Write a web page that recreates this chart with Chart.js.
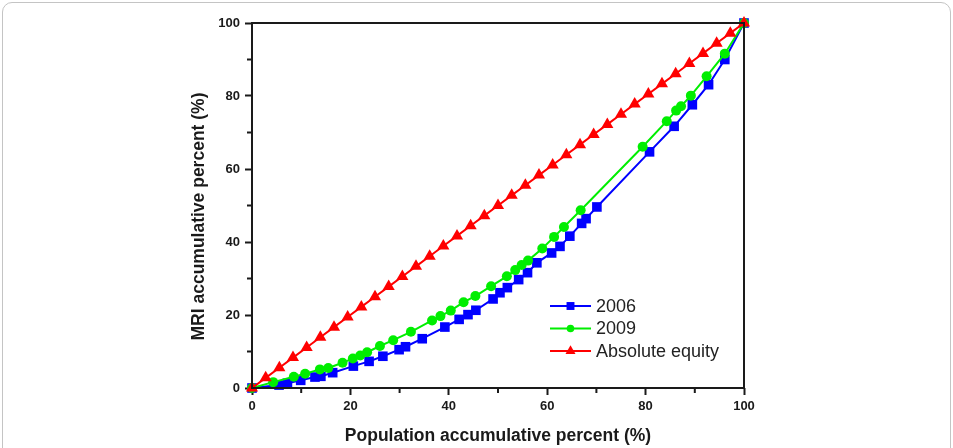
<!DOCTYPE html>
<html>
<head>
<meta charset="utf-8">
<script src="https://cdn.jsdelivr.net/npm/chart.js@4/dist/chart.umd.min.js"></script>
<style>
  body { margin: 0; background: #fff; }
  #frame {
    position: absolute; left: 2px; top: 2px; width: 947px; height: 470px;
    border: 1px solid #c4c4c4; border-radius: 10px;
  }
  #wrap { position: absolute; left: 0; top: 0; width: 953px; height: 448px; }
</style>
</head>
<body>
<div id="frame"></div>
<div id="wrap"><canvas id="lorenz" width="953" height="448"></canvas></div>
<script>
/*===================================================================
   Data
==================================================================*/
const seriesNames = ['2006', '2009', 'Absolute equity']

const pop2006 = [0, 5.5, 7.2, 9.9, 12.8, 14.0, 16.4, 20.6, 23.8, 26.6, 29.9, 31.2, 34.6, 39.2, 42.1, 43.9, 45.5, 49.0, 50.4, 51.9, 54.2, 56.0, 57.9, 60.9, 62.6, 64.6, 67.0, 67.9, 70.1, 80.8, 85.8, 89.5, 92.8, 96.1, 100]
const mri2006 = [0, 0.8, 1.3, 2.1, 3.0, 3.2, 4.2, 6.0, 7.3, 8.7, 10.5, 11.3, 13.5, 16.7, 18.8, 20.1, 21.3, 24.4, 26.1, 27.5, 29.7, 31.6, 34.3, 37.0, 38.8, 41.6, 45.1, 46.4, 49.6, 64.7, 71.7, 77.6, 83.1, 90.0, 100]

const pop2009 = [0, 4.3, 8.5, 10.8, 13.8, 15.5, 18.4, 20.5, 22.0, 23.4, 26.0, 28.7, 32.3, 36.6, 38.3, 40.4, 43.0, 45.4, 48.6, 51.8, 53.5, 54.8, 56.1, 59.0, 61.4, 63.4, 66.8, 79.4, 84.3, 86.2, 87.2, 89.2, 92.4, 96.1, 100]
const mri2009 = [0, 1.6, 3.1, 3.9, 5.1, 5.5, 6.9, 8.1, 8.9, 9.8, 11.5, 13.1, 15.4, 18.5, 19.7, 21.2, 23.5, 25.2, 27.9, 30.6, 32.3, 33.7, 34.9, 38.2, 41.4, 44.1, 48.7, 66.1, 73.1, 76.0, 77.2, 80.1, 85.4, 91.6, 100]

const popEquity = [0, 2.78, 5.56, 8.33, 11.11, 13.89, 16.67, 19.44, 22.22, 25, 27.78, 30.56, 33.33, 36.11, 38.89, 41.67, 44.44, 47.22, 50, 52.78, 55.56, 58.33, 61.11, 63.89, 66.67, 69.44, 72.22, 75, 77.78, 80.56, 83.33, 86.11, 88.89, 91.67, 94.44, 97.22, 100]
const mriEquity = [0, 2.78, 5.56, 8.33, 11.11, 13.89, 16.67, 19.44, 22.22, 25, 27.78, 30.56, 33.33, 36.11, 38.89, 41.67, 44.44, 47.22, 50, 52.78, 55.56, 58.33, 61.11, 63.89, 66.67, 69.44, 72.22, 75, 77.78, 80.56, 83.33, 86.11, 88.89, 91.67, 94.44, 97.22, 100]

const majorTicks = [0, 20, 40, 60, 80, 100]
const minorTicks = [10, 30, 50, 70, 90]

const xTitle = 'Population accumulative percent (%)'
const yTitle = 'MRI accumulative percent (%)'

/*===================================================================
   helpers
==================================================================*/
const toPoints = (xs, ys) => xs.map((x, i) => ({ x: x, y: ys[i] }))
const FONT = '"Liberation Sans", Arial, sans-serif'
const INK = '#1a1a1a'

// order: lower number ends up on top
const styles = [
  { color: '#0000ff', pointStyle: 'rect', radius: 6.8, order: 2 },
  { color: '#00ee00', pointStyle: 'circle', radius: 5, order: 1 },
  { color: '#ff0000', pointStyle: 'triangle', radius: 7, order: 0 },
]

/*===================================================================
   frame: full box + minor ticks + y title + legend inside the plot
==================================================================*/
const framePlugin = {
  id: 'framePlugin',
  afterDraw(chart) {
    const { ctx, chartArea: a, scales } = chart
    ctx.save()
    ctx.strokeStyle = INK
    ctx.lineWidth = 2
    ctx.strokeRect(a.left, a.top, a.right - a.left, a.bottom - a.top)

    // minor ticks, shorter than the labelled ones
    ctx.beginPath()
    minorTicks.forEach(v => {
      const px = scales.x.getPixelForValue(v)
      ctx.moveTo(px, a.bottom)
      ctx.lineTo(px, a.bottom + 5)
      const py = scales.y.getPixelForValue(v)
      ctx.moveTo(a.left, py)
      ctx.lineTo(a.left - 5, py)
    })
    ctx.stroke()

    // y title, sits a bit below the middle of the axis in the original
    ctx.save()
    ctx.translate(199, (a.top + a.bottom) / 2 + 11)
    ctx.rotate(-Math.PI / 2)
    ctx.fillStyle = INK
    ctx.font = 'bold 17.5px ' + FONT
    ctx.textAlign = 'center'
    ctx.textBaseline = 'middle'
    ctx.fillText(yTitle, 0, 0)
    ctx.restore()

    // legend
    const lx = 550, ly = 306, gap = 22.5
    seriesNames.forEach((name, i) => {
      const s = styles[i]
      const y = ly + i * gap
      ctx.strokeStyle = s.color
      ctx.lineWidth = 2
      ctx.beginPath()
      ctx.moveTo(lx, y)
      ctx.lineTo(lx + 41, y)
      ctx.stroke()
      ctx.fillStyle = s.color
      Chart.helpers.drawPoint(ctx, { pointStyle: s.pointStyle, radius: s.radius - 1.2, borderWidth: 0 }, lx + 20.5, y)
      ctx.fillStyle = '#222'
      ctx.font = '18px ' + FONT
      ctx.textBaseline = 'middle'
      ctx.fillText(name, lx + 46, y + 1)
    })
    ctx.restore()
  }
}

/*===================================================================
   chart
==================================================================*/
const datasets = [
  toPoints(pop2006, mri2006),
  toPoints(pop2009, mri2009),
  toPoints(popEquity, mriEquity),
].map((pts, i) => ({
  label: seriesNames[i],
  data: pts,
  order: styles[i].order,
  showLine: true,
  borderColor: styles[i].color,
  backgroundColor: styles[i].color,
  borderWidth: 2,
  pointStyle: styles[i].pointStyle,
  pointRadius: styles[i].radius,
  pointBorderWidth: 0,
  pointBackgroundColor: styles[i].color,
  tension: 0,
  clip: false,
}))

const axisCommon = {
  type: 'linear',
  min: 0,
  max: 100,
  grid: { drawOnChartArea: false, drawTicks: true, tickLength: 7, tickColor: INK, tickWidth: 2, color: INK },
  border: { display: false },
  ticks: {
    stepSize: 20,
    color: INK,
    font: { family: FONT, size: 13, weight: 'bold' },
    callback: v => majorTicks.includes(v) ? String(v) : '',
  },
}

const titleFont = { family: FONT, size: 17.5, weight: 'bold' }

new Chart(document.getElementById('lorenz'), {
  type: 'scatter',
  data: { datasets },
  options: {
    responsive: false,
    animation: false,
    devicePixelRatio: 1,
    layout: { padding: { left: 0, right: 209, top: 23, bottom: 0 } },
    plugins: { legend: { display: false }, tooltip: { enabled: false } },
    scales: {
      x: {
        ...axisCommon,
        position: 'bottom',
        ticks: { ...axisCommon.ticks, padding: 4, maxRotation: 0 },
        title: { display: true, text: xTitle, color: INK, font: titleFont, padding: { top: 0, bottom: 1.5 } },
        afterFit: s => { s.height = 60 },
      },
      y: {
        ...axisCommon,
        position: 'left',
        ticks: { ...axisCommon.ticks, padding: 5 },
        afterFit: s => { s.width = 252 },
      },
    },
  },
  plugins: [framePlugin],
})
</script>
</body>
</html>
